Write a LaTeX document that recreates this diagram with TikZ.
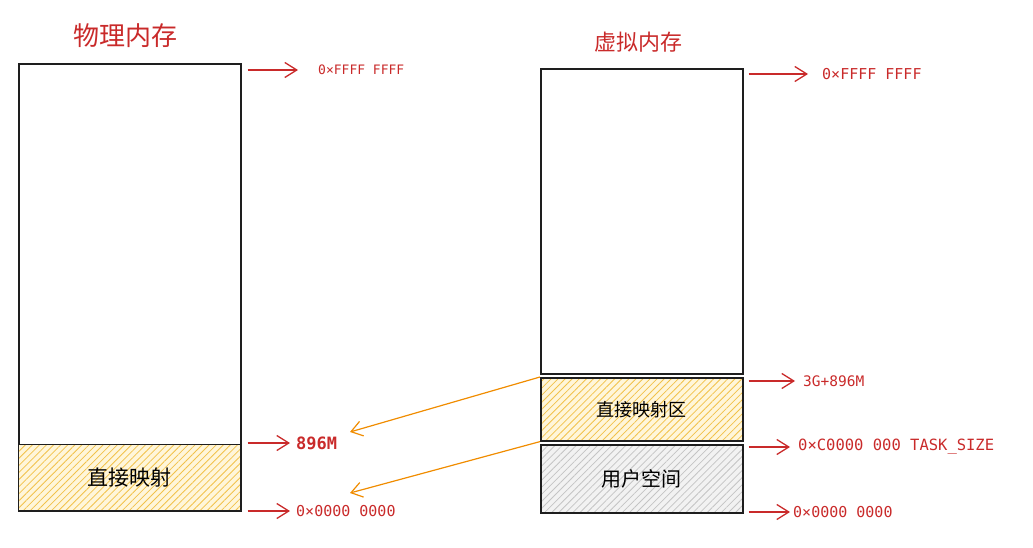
\documentclass[tikz,border=0pt]{standalone}
\usepackage{fontspec}
\usepackage{tikz}
\usetikzlibrary{positioning, arrows.meta, patterns.meta}

\newfontfamily\cjk{Noto Sans CJK SC}
\newfontfamily\addrfont{DejaVu Sans Mono}

\definecolor{sketchred}{HTML}{C92A2A}
\definecolor{sketchorange}{HTML}{F08C00}
\definecolor{sketchblack}{HTML}{1E1E1E}
\definecolor{hatchyellow}{HTML}{F2C24A}
\definecolor{paleyellow}{HTML}{FFF6DA}
\definecolor{hatchgray}{HTML}{C4C4C4}
\definecolor{palegray}{HTML}{F2F2F2}

\tikzset{
    membox/.style={draw=sketchblack, line width=1.6pt, inner sep=0pt, anchor=north west,
        font=\cjk\fontsize{#1}{#1}\selectfont},
    membox/.default=20,
    yellowpart/.style={membox=#1, preaction={fill=paleyellow},
        pattern={Lines[angle=45, distance=5pt, line width=0.8pt]}, pattern color=hatchyellow},
    graypart/.style={membox=#1, preaction={fill=palegray},
        pattern={Lines[angle=45, distance=5pt, line width=0.8pt]}, pattern color=hatchgray},
    title/.style={text=sketchred, font=\cjk\fontsize{#1}{#1}\selectfont},
    addr/.style={anchor=west, inner sep=0pt, text=sketchred,
        font=\addrfont\fontsize{#1}{#1}\selectfont},
    redarrow/.style={draw=sketchred, line width=1.3pt,
        -{Straight Barb[length=12pt,width=15pt]}},
    maparrow/.style={draw=sketchorange, line width=1.2pt,
        -{Straight Barb[length=11pt,width=15pt]}}
}

\begin{document}
\begin{tikzpicture}[x=1pt, y=-1pt]
    \useasboundingbox (0,0) rectangle (1033,548);

    % physical memory
    \node [title=26] (ptitle) at (125, 36) {物理内存};
    \node [membox, minimum width=222pt, minimum height=447pt] (phys) at (18, 63) {};
    \node [yellowpart=21, minimum width=222pt, minimum height=66pt] (pdirect) at (18, 444) {直接映射};

    \node [addr=13] (pmax) at (318, 70) {0×FFFF FFFF};
    \node [addr=17, font=\addrfont\bfseries\fontsize{17}{17}\selectfont] (p896) at (296, 443) {896M};
    \node [addr=15] (pzero) at (296, 511) {0×0000 0000};

    \draw [redarrow, shorten <=6pt, shorten >=20pt] (phys.east |- pmax.west) -- (pmax.west);
    \draw [redarrow, shorten <=6pt, shorten >=6pt] (phys.east |- p896.west) -- (p896.west);
    \draw [redarrow, shorten <=6pt, shorten >=6pt] (phys.east |- pzero.west) -- (pzero.west);

    % virtual memory
    \node [title=22] (vtitle) at (638, 42) {虚拟内存};
    \node [membox, minimum width=202pt, minimum height=305pt] (vhigh) at (540, 68) {};
    \node [yellowpart=18, minimum width=202pt, minimum height=63pt] (vdirect) at (540, 377) {直接映射区};
    \node [graypart=20, minimum width=202pt, minimum height=68pt] (vuser) at (540, 444) {用户空间};

    \node [addr=15] (vmax) at (822, 74) {0×FFFF FFFF};
    \node [addr=14.5] (v3g) at (803, 381) {3G+896M};
    \node [addr=15.5] (vtask) at (798, 447) {0×C0000 000 TASK\_SIZE};
    \node [addr=15] (vzero) at (793, 512) {0×0000 0000};

    \draw [redarrow, shorten <=5pt, shorten >=14pt] (vhigh.east |- vmax.west) -- (vmax.west);
    \draw [redarrow, shorten <=5pt, shorten >=8pt] (vhigh.east |- v3g.west) -- (v3g.west);
    \draw [redarrow, shorten <=5pt, shorten >=8pt] (vhigh.east |- vtask.west) -- (vtask.west);
    \draw [redarrow, shorten <=5pt, shorten >=3pt] (vhigh.east |- vzero.west) -- (vzero.west);

    % mapping
    \coordinate (hit896) at (350, 432);
    \coordinate (hitzero) at (350, 493);
    \draw [maparrow] (vdirect.north west) -- (hit896);
    \draw [maparrow] (vdirect.south west) -- (hitzero);
\end{tikzpicture}
\end{document}
